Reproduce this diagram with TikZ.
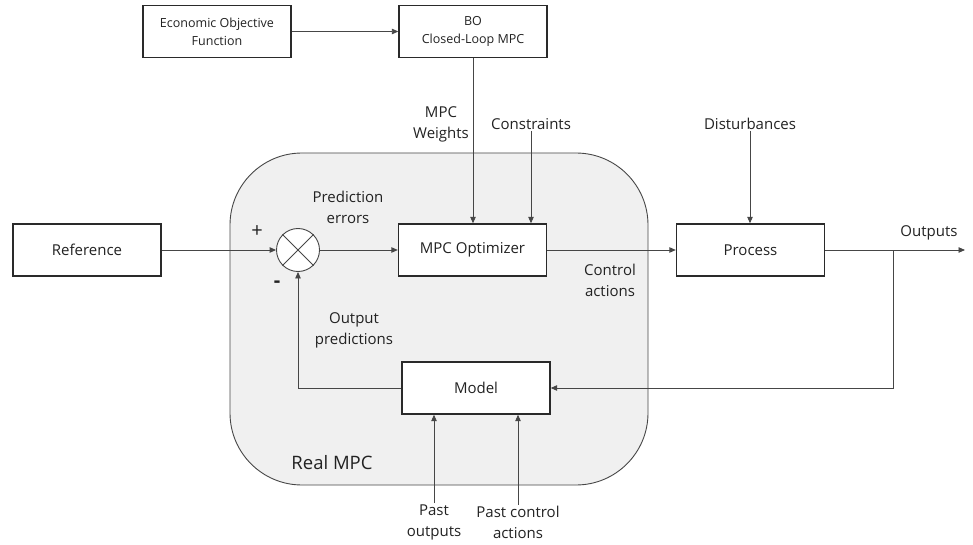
\documentclass[tikz,border=0pt]{standalone}
\usepackage{fontspec}
\setmainfont{Open Sans}
\usetikzlibrary{arrows.meta}
\definecolor{linec}{HTML}{464646}
\definecolor{boxc}{HTML}{2A2A2A}
\definecolor{txtc}{HTML}{222222}
\definecolor{mpcfill}{HTML}{F0F0F0}
\begin{document}
\begin{tikzpicture}[x=1pt,y=-1pt,
  font=\fontsize{15}{21}\selectfont, text=txtc,
  blockbox/.style={draw=boxc, line width=1.4pt, fill=white, minimum width=148pt, minimum height=52pt, inner sep=0pt, align=center},
  lbl/.style={align=center, inner sep=1pt},
  conn/.style={draw=linec, line width=0.9pt, -{Triangle[length=6.5pt,width=5.5pt]}},
  wire/.style={draw=linec, line width=0.9pt}]
\useasboundingbox (0,0) rectangle (973,545);

% MPC region
\draw[draw=linec, line width=0.9pt, fill=mpcfill, rounded corners=72pt] (230,153) rectangle (648,485);
\node[lbl, font=\fontsize{18.5}{22}\selectfont] (realmpc) at (332,463) {Real MPC};

% blocks
\node[blockbox, font=\fontsize{12.5}{18}\selectfont] (econ) at (217,31.5) {Economic Objective\\Function};
\node[blockbox, font=\fontsize{12.5}{18}\selectfont] (bo) at (473,31.5) {BO\\Closed-Loop MPC};
\node[blockbox] (ref) at (87,250) {Reference};
\node[blockbox] (opt) at (472.5,250) {MPC Optimizer};
\node[blockbox] (proc) at (750.5,250) {Process};
\node[blockbox] (model) at (476,388) {Model};

% summing junction
\node[draw=linec, line width=0.9pt, fill=white, circle, minimum size=43pt, inner sep=0pt] (sum) at (298,250) {};
\draw[wire] (sum.45) -- (sum.225) (sum.135) -- (sum.-45);
\node[lbl, font=\fontsize{20}{22}\selectfont] (plus) at (257,232) {+};
\node[lbl, font=\fontsize{20}{22}\bfseries] (minus) at (277,284) {-};

% labels
\node[lbl] (weights) at (441,124) {MPC\\Weights};
\node[lbl] (cons) at (531,124) {Constraints};
\node[lbl] (dist) at (750,124) {Disturbances};
\node[lbl] (perr) at (348,207.5) {Prediction\\errors};
\node[lbl] (cact) at (610,280.5) {Control\\actions};
\node[lbl] (opred) at (354,330.5) {Output\\predictions};
\node[lbl] (outs) at (929,233) {Outputs};
\node[lbl] (pout) at (434,522) {Past\\outputs};
\node[lbl] (pcact) at (518,522) {Past control\\actions};

\coordinate (outend) at (965,250);
\coordinate (branch) at (893,250);

% connectors
\draw[conn] (econ.east) -- (bo.west);
\draw[conn] (bo.south) -- (bo.south |- opt.north);
\draw[conn] (cons.south) -- (cons.south |- opt.north);
\draw[conn] (dist.south) -- (dist.south |- proc.north);
\draw[conn] (ref.east) -- (sum.west);
\draw[conn] (sum.east) -- (opt.west);
\draw[conn] (opt.east) -- (proc.west);
\draw[conn] (proc.east) -- (outend);
\draw[conn] (branch) |- (model.east);
\draw[conn] (model.west) -| (sum.south);
\draw[conn] (pout.north) -- (pout.north |- model.south);
\draw[conn] (pcact.north) -- (pcact.north |- model.south);
\end{tikzpicture}
\end{document}
